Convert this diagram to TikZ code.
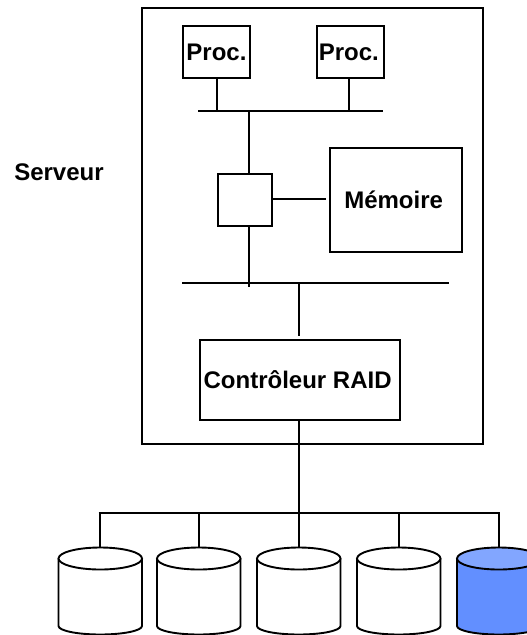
\documentclass[tikz,border=0pt]{standalone}
\usepackage{fontspec}
\setmainfont{Liberation Sans}
\tikzset{every picture/.style={line width=1.9pt}}
\tikzset{
  labelnode/.style={inner sep=0pt,font=\bfseries\fontsize{24}{28}\selectfont},
  boxnode/.style={labelnode,draw,rectangle,anchor=north west},
  pics/disk/.style 2 args={code={
    \draw [fill=#1] (0,11) -- (0,78.5) .. controls (0,83) and (18,87) .. (41.75,87) .. controls (65.5,87) and (83.5,83) .. (83.5,78.5) -- (83.5,11) ;
    \draw [fill=#2] (41.75,11) ellipse [x radius=41.75,y radius=11];
    \coordinate (-top) at (41.75,0);
  }}
}
\definecolor{raidblue}{RGB}{98,143,255}
\definecolor{raidface}{RGB}{130,166,255}

\begin{document}
\begin{tikzpicture}[x=1pt,y=1pt,yscale=-1,xscale=1]
\useasboundingbox (0,0) rectangle (527,635);
\clip (0,0) rectangle (527,635);

%Shape: Server frame
\node [draw,rectangle,minimum width=341.5pt,minimum height=436.2pt,inner sep=0pt,anchor=north west] (serveur) at (140.7,7.2) {};
% Text Node
\node [labelnode] (lblserveur) at (59,172) {Serveur};

% Boxes
\node [boxnode,minimum width=67pt,minimum height=52pt] (proca) at (182,25) {Proc.};
\node [boxnode,minimum width=66.5pt,minimum height=52pt] (procb) at (316.2,25) {Proc.\kern3pt};
\node [boxnode,minimum width=54pt,minimum height=52pt] (pont) at (216.7,172.7) {};
\node [boxnode,minimum width=132pt,minimum height=104pt] (mem) at (328.7,146.7) {Mémoire\kern4pt};
\node [boxnode,minimum width=200pt,minimum height=80pt] (raid) at (198.7,338.7) {Contrôleur RAID\kern4pt};

% Buses
\coordinate (busa1) at (198,111.4);
\coordinate (busa2) at (383,111.4);
\coordinate (busap) at (249,111.4);
\coordinate (busb1) at (182,283);
\coordinate (busb2) at (449,283);
\coordinate (busbp) at (249,287);
\coordinate (busbr) at (299,283);
\coordinate (busc1) at (98.5,513);
\coordinate (busc2) at (499.5,513);
\coordinate (buscr) at (299,513);
\draw (busa1) -- (busa2);
\draw (busb1) -- (busb2);
\draw (busc1) -- (busc2);

% Links
\coordinate (stuba) at (217,111.4);
\coordinate (stubb) at (349,111.4);
\coordinate (stubm) at (325.5,199);
\coordinate (stubr) at (299,336);
\draw (proca.south -| stuba) -- (stuba);
\draw (procb.south -| stubb) -- (stubb);
\draw (busap) -- (pont.north -| busap);
\draw (pont.south -| busap) -- (busbp);
\draw (pont.east |- stubm) -- (stubm);
\draw (busbr) -- (stubr);
\draw (raid.south -| buscr) -- (buscr);

% Disks
\path (58.5,547.5) pic [transform shape] (diska) {disk={white}{white}};
\path (157,547.5) pic [transform shape] (diskb) {disk={white}{white}};
\path (257,547.5) pic [transform shape] (diskc) {disk={white}{white}};
\path (357,547.5) pic [transform shape] (diskd) {disk={white}{white}};
\path (457,547.5) pic [transform shape] (diske) {disk={raidblue}{raidface}};

\foreach \name in {diska,diskb,diskc,diskd,diske}{
  \draw (\name-top |- busc1) -- (\name-top);
}

\end{tikzpicture}
\end{document}
